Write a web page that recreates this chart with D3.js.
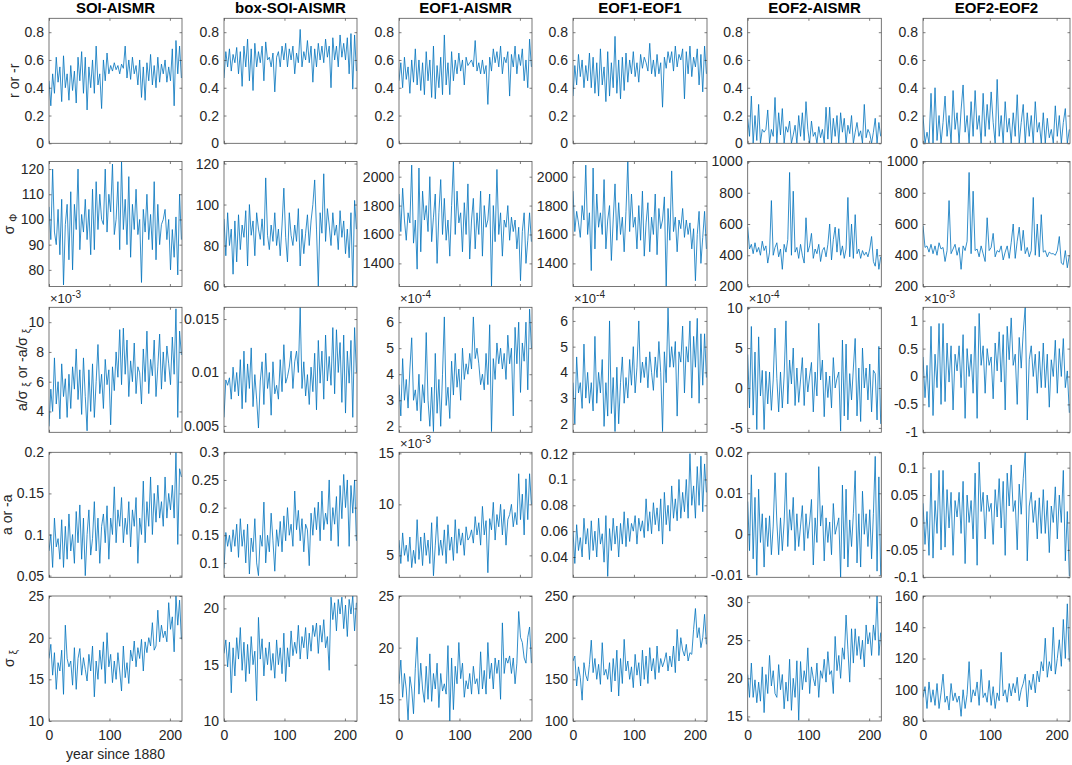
<!DOCTYPE html>
<html><head><meta charset="utf-8">
<script src="https://cdn.jsdelivr.net/npm/d3@7"></script>
<style>body{margin:0;background:#fff}svg{display:block;font-family:"Liberation Sans",Arial,Helvetica,sans-serif}</style>
</head><body><svg id="c" width="1072" height="765"></svg>
<script>
// ---------- categories / labels ----------
const columnTitles = ["SOI-AISMR","box-SOI-AISMR","EOF1-AISMR","EOF1-EOF1","EOF2-AISMR","EOF2-EOF2"];
const xTicks = [0,100,200];
const years = d3.range(0, 220, 3); // sampled years since 1880 (74 points)

// ---------- row 1 : r or -r ----------
const r_c1 = [0.45,0.27,0.5,0.36,0.62,0.44,0.55,0.3,0.63,0.4,
 0.5,0.31,0.56,0.38,0.52,0.29,0.62,0.45,0.66,0.36,
 0.62,0.24,0.55,0.4,0.6,0.36,0.7,0.42,0.5,0.25,
 0.6,0.45,0.65,0.5,0.56,0.52,0.58,0.53,0.56,0.5,
 0.57,0.54,0.7,0.47,0.6,0.46,0.62,0.5,0.56,0.42,
 0.6,0.33,0.55,0.31,0.58,0.45,0.64,0.42,0.56,0.4,
 0.62,0.44,0.57,0.5,0.6,0.44,0.55,0.45,0.68,0.27,
 0.74,0.5,0.7,0.47];
const r_c2 = [0.47,0.66,0.55,0.68,0.52,0.64,0.58,0.69,0.5,0.66,
 0.41,0.7,0.55,0.75,0.45,0.68,0.38,0.72,0.55,0.66,
 0.58,0.7,0.45,0.73,0.6,0.62,0.55,0.65,0.37,0.62,
 0.66,0.55,0.7,0.6,0.72,0.55,0.68,0.6,0.7,0.5,
 0.65,0.58,0.82,0.55,0.66,0.6,0.74,0.58,0.7,0.44,
 0.68,0.55,0.72,0.6,0.7,0.58,0.75,0.62,0.7,0.4,
 0.76,0.6,0.7,0.55,0.78,0.62,0.72,0.6,0.76,0.5,
 0.79,0.39,0.78,0.52];
const r_c3 = [0.45,0.58,0.4,0.62,0.46,0.55,0.36,0.6,0.44,0.68,
 0.42,0.6,0.38,0.58,0.35,0.66,0.45,0.6,0.33,0.7,
 0.32,0.56,0.4,0.62,0.35,0.78,0.42,0.58,0.35,0.66,
 0.45,0.6,0.5,0.65,0.52,0.6,0.42,0.62,0.56,0.58,
 0.6,0.55,0.74,0.52,0.58,0.5,0.6,0.5,0.56,0.28,
 0.62,0.52,0.68,0.58,0.66,0.55,0.7,0.5,0.62,0.58,
 0.66,0.34,0.64,0.55,0.7,0.5,0.64,0.56,0.68,0.45,
 0.6,0.4,0.75,0.55];
const r_c4 = [0.34,0.56,0.42,0.64,0.48,0.6,0.4,0.56,0.45,0.65,
 0.4,0.62,0.36,0.58,0.34,0.68,0.42,0.55,0.3,0.66,
 0.34,0.58,0.4,0.77,0.36,0.6,0.32,0.62,0.38,0.65,
 0.44,0.6,0.5,0.66,0.48,0.58,0.44,0.64,0.54,0.62,
 0.58,0.52,0.72,0.5,0.6,0.48,0.64,0.5,0.58,0.26,
 0.62,0.54,0.66,0.58,0.66,0.52,0.7,0.55,0.64,0.6,
 0.68,0.32,0.66,0.5,0.7,0.48,0.62,0.55,0.68,0.42,
 0.64,0.37,0.7,0.5];
const r_c5 = [0.18,0.05,0.34,0.0,0.2,0.02,0.28,0.0,0.1,0.08,
 0.1,0.24,0.0,0.1,0.05,0.33,0.0,0.22,0.06,0.25,
 0.0,0.12,0.08,0.16,0.0,0.06,0.13,0.0,0.2,0.05,
 0.22,0.02,0.3,0.1,0.0,0.16,0.05,0.08,0.0,0.12,
 0.04,0.1,0.0,0.26,0.03,0.26,0.0,0.18,0.05,0.2,
 0.0,0.22,0.08,0.18,0.0,0.13,0.07,0.2,0.0,0.08,
 0.15,0.05,0.09,0.0,0.28,0.04,0.1,0.07,0.0,0.08,
 0.18,0.0,0.15,0.05];
const r_c6 = [0.2,0.0,0.08,0.0,0.36,0.0,0.4,0.02,0.2,0.0,
 0.15,0.34,0.05,0.2,0.0,0.38,0.1,0.22,0.0,0.24,
 0.42,0.08,0.2,0.0,0.3,0.05,0.38,0.1,0.2,0.0,
 0.36,0.05,0.28,0.1,0.37,0.15,0.0,0.46,0.05,0.2,
 0.0,0.3,0.08,0.18,0.0,0.22,0.05,0.35,0.0,0.15,
 0.28,0.0,0.22,0.05,0.2,0.0,0.3,0.08,0.15,0.0,
 0.22,0.0,0.18,0.04,0.1,0.0,0.27,0.05,0.2,0.0,
 0.15,0.25,0.0,0.1];

// ---------- row 2 : sigma_Phi ----------
const sPhi_c1 = [105,92,120,95,90,104,86,108,74,98,
 106,84,111,80,106,96,120,88,102,95,
 108,92,104,86,112,88,115,96,110,100,
 98,120,95,110,103,122,94,100,115,88,
 123,96,108,90,117,85,106,96,112,94,
 100,75,104,95,110,92,102,88,115,84,
 106,90,98,100,104,92,100,80,96,85,
 101,78,110,92];
const sPhi_c2 = [93,75,96,80,88,66,92,72,95,78,
 90,84,97,70,100,85,92,75,96,88,
 83,93,80,113,85,78,90,82,96,80,
 88,75,90,108,84,72,96,85,80,90,
 82,98,70,88,76,86,95,80,92,100,
 112,88,60,96,86,115,82,98,90,80,
 96,85,90,78,97,84,92,76,88,74,
 96,60,102,88];
const sPhi_c3 = [1880,1620,1920,1700,1560,1750,1680,2080,1540,1700,
 1360,2060,1480,1900,1700,1800,1620,2000,1550,1720,
 1880,1400,1750,1980,1600,1850,1560,1700,1450,1800,
 2105,1600,1900,1680,1750,1480,1820,1600,1950,1430,
 1700,1850,1500,1750,1600,1900,1450,1800,1650,1700,
 1880,1240,1800,1550,2050,1600,1750,1450,1700,1650,
 1800,1560,1720,1620,1700,1500,1650,1280,1620,1750,
 1400,1560,1750,1550];
const sPhi_c4 = [1900,1620,1760,1680,1580,1800,1700,2080,1600,1750,
 1350,2060,1500,1880,1650,1750,1600,1980,1500,1700,
 1800,1420,1700,1950,1560,1820,1600,1720,1480,1760,
 2110,1620,1880,1650,1720,1500,1800,1560,1900,1450,
 1680,1820,1480,1720,1600,1880,1460,1780,1640,1700,
 1860,1240,1780,1560,2040,1620,1720,1480,1700,1640,
 1780,1580,1700,1600,1680,1500,1640,1280,1600,1760,
 1400,1580,1760,1500];
const sPhi_c5 = [580,440,470,410,480,420,450,400,490,430,
 460,350,420,750,400,450,480,390,440,310,
 470,420,500,930,400,810,420,450,380,470,
 400,350,640,420,460,540,380,440,410,470,
 360,430,450,390,470,600,370,500,580,420,
 570,400,460,380,440,770,390,600,380,660,
 410,440,380,430,400,420,390,440,520,360,
 330,440,310,390];
const sPhi_c6 = [590,450,460,420,470,410,460,400,480,440,
 450,360,430,750,410,440,470,400,450,310,
 460,430,490,930,410,810,430,440,390,460,
 410,360,640,430,450,540,390,430,420,460,
 370,420,460,380,480,600,380,490,580,430,
 560,410,450,390,430,770,400,600,390,660,
 420,430,390,420,410,410,400,430,520,350,
 340,430,320,400];

// ---------- row 3 : a/sigma_xi (in axis display units) ----------
const aSig_c1 = [3.0,5.5,4.0,7.6,4.5,6.0,3.5,7.2,5.0,6.2,
 3.6,6.5,4.2,7.0,5.5,8.2,4.8,6.8,3.8,7.6,
 5.0,2.7,6.8,4.0,7.2,3.6,6.0,8.5,5.2,6.5,
 4.2,7.5,5.8,6.8,3.1,7.0,5.4,8.0,6.3,9.5,
 5.8,9.6,6.5,8.8,5.0,7.4,6.0,8.6,5.2,7.0,
 6.6,4.5,8.2,6.0,9.4,5.2,7.5,6.4,8.8,5.0,
 7.0,9.2,5.5,8.0,6.0,8.4,7.2,5.8,9.0,6.5,
 10.9,3.6,9.4,7.8];
const aSig_c2 = [0.0058,0.0093,0.0088,0.0095,0.0075,0.0105,0.0082,0.0100,0.0078,0.0112,
 0.0066,0.0120,0.0072,0.0108,0.0085,0.0123,0.0068,0.0098,0.0075,0.0048,
 0.0092,0.0110,0.0070,0.0118,0.0085,0.0100,0.0060,0.0110,0.0080,0.0088,
 0.0075,0.0112,0.0082,0.0126,0.0090,0.0096,0.0105,0.0120,0.0085,0.0110,
 0.0120,0.0100,0.0161,0.0085,0.0110,0.0078,0.0098,0.0070,0.0105,0.0082,
 0.0118,0.0065,0.0130,0.0090,0.0120,0.0075,0.0135,0.0092,0.0115,0.0088,
 0.0142,0.0080,0.0140,0.0100,0.0128,0.0072,0.0135,0.0062,0.0120,0.0090,
 0.0130,0.0058,0.0142,0.0100];
const aSig_c3 = [3.6,2.4,4.6,3.0,3.8,2.7,4.2,5.4,3.0,3.4,
 2.6,4.0,2.2,3.6,2.9,5.6,3.0,2.0,3.5,1.8,
 4.8,2.5,3.8,2.0,4.0,6.2,2.8,3.5,2.3,4.5,
 3.2,4.8,3.5,4.2,3.0,5.0,3.8,4.4,4.0,4.8,
 4.2,6.2,4.6,5.0,4.4,3.6,4.0,3.4,4.8,3.6,
 5.9,1.8,4.6,3.8,5.2,4.4,5.0,4.2,4.8,3.8,
 5.5,4.4,5.0,2.4,5.8,4.4,6.0,3.3,5.2,4.5,
 6.0,3.4,6.5,5.0];
const aSig_c4 = [3.6,2.0,4.6,3.2,3.6,2.6,5.1,3.0,4.0,2.8,
 3.6,2.5,5.4,2.8,4.0,3.2,4.5,1.9,3.6,2.3,
 6.0,2.4,3.8,1.7,4.2,2.0,3.6,4.6,2.8,3.8,
 3.0,4.5,3.5,5.0,3.2,4.2,6.0,3.6,4.4,3.8,
 4.6,3.4,4.8,4.0,3.3,4.6,3.8,5.2,4.0,1.7,
 4.8,3.6,6.5,4.2,5.0,4.2,5.2,2.3,4.8,4.4,
 5.8,3.2,5.0,4.4,6.0,3.0,5.4,4.2,6.1,2.8,
 5.5,3.5,5.5,3.8];
const aSig_c5 = [4.2,-2.5,7.7,-3.4,4.5,-5.2,6.4,-1.0,2.2,-5.2,
 2.1,-2.0,2.0,-2.8,1.0,7.5,1.2,-3.0,2.0,-2.5,
 1.5,8.4,-2.0,3.5,0.5,5.0,-2.2,2.5,-1.8,1.0,
 3.8,-2.2,2.5,-0.5,1.5,3.2,-3.0,2.0,-1.0,8.1,
 1.0,3.5,-3.6,2.0,-1.2,1.5,-2.5,3.8,0.0,1.2,
 2.0,-5.4,6.0,-3.5,5.5,-4.0,1.8,-1.5,2.5,6.2,
 -3.5,2.5,-4.2,5.0,0.0,2.5,-1.5,3.0,-3.0,2.2,
 1.8,-4.0,5.2,-4.5];
const aSig_c6 = [0.35,-0.38,0.2,-0.55,0.9,-0.7,0.4,-0.2,0.95,-0.5,
 0.95,-0.45,0.6,-0.1,0.55,-0.6,0.4,0.1,0.55,-0.2,
 0.75,-0.75,0.5,0.0,0.4,-0.3,0.9,-0.75,1.13,0.2,
 0.55,-0.3,0.5,0.2,0.35,-0.4,0.6,0.1,0.8,-0.1,
 0.75,-0.6,0.9,0.3,1.05,0.2,0.4,-0.5,0.7,0.15,
 0.8,1.24,-0.78,0.3,0.55,0.0,0.4,-0.3,0.45,-0.2,
 0.6,-0.2,0.4,-0.55,0.3,0.0,0.65,-0.3,0.5,0.0,
 0.68,-0.2,0.1,-0.65];

// ---------- row 4 : a or -a ----------
const a_c1 = [0.08,0.1,0.06,0.12,0.085,0.095,0.07,0.118,0.06,0.11,
 0.07,0.125,0.08,0.1,0.065,0.128,0.09,0.136,0.07,0.12,
 0.05,0.1,0.13,0.075,0.095,0.14,0.08,0.12,0.065,0.11,
 0.125,0.09,0.135,0.07,0.12,0.1,0.158,0.09,0.13,0.11,
 0.145,0.09,0.12,0.1,0.14,0.085,0.13,0.11,0.145,0.065,
 0.12,0.1,0.165,0.09,0.14,0.11,0.17,0.1,0.15,0.115,
 0.16,0.12,0.14,0.11,0.17,0.12,0.15,0.13,0.16,0.12,
 0.2,0.088,0.18,0.17];
const a_c2 = [0.09,0.155,0.13,0.15,0.12,0.16,0.13,0.17,0.11,0.18,
 0.13,0.16,0.1,0.17,0.08,0.145,0.12,0.18,0.1,0.077,
 0.15,0.13,0.21,0.1,0.15,0.12,0.19,0.14,0.085,0.16,
 0.13,0.175,0.12,0.185,0.14,0.2,0.15,0.17,0.13,0.23,
 0.16,0.195,0.14,0.18,0.12,0.17,0.16,0.095,0.19,0.15,
 0.2,0.16,0.21,0.14,0.23,0.16,0.19,0.17,0.25,0.14,
 0.2,0.17,0.22,0.13,0.24,0.18,0.26,0.2,0.25,0.13,
 0.24,0.19,0.25,0.14];
const a_c3 = [6.5,4.2,7.2,5.0,6.0,4.4,6.8,3.8,5.5,4.2,
 8.5,4.6,6.8,4.0,7.2,5.0,6.5,4.2,8.2,3.0,
 6.0,8.8,5.0,6.5,5.0,7.5,4.2,8.0,5.5,6.8,
 4.5,8.5,5.2,7.6,6.0,7.2,5.0,7.8,6.5,6.8,
 7.5,6.2,8.8,7.0,8.2,6.0,9.8,7.0,8.4,3.3,
 8.6,7.5,10.2,6.5,9.0,7.8,10.0,7.0,9.5,6.0,
 8.5,9.0,10.0,7.8,9.2,8.0,13.0,8.5,11.0,7.0,
 12.5,8.5,13.0,10.0];
const a_c4 = [0.06,0.035,0.065,0.045,0.055,0.04,0.07,0.05,0.062,0.038,
 0.068,0.045,0.06,0.04,0.07,0.05,0.058,0.036,0.072,0.025,
 0.062,0.045,0.07,0.05,0.064,0.04,0.066,0.05,0.075,0.048,
 0.07,0.052,0.066,0.06,0.072,0.05,0.07,0.06,0.068,0.055,
 0.085,0.06,0.075,0.058,0.082,0.065,0.078,0.06,0.085,0.05,
 0.09,0.065,0.08,0.06,0.095,0.07,0.085,0.068,0.1,0.07,
 0.09,0.075,0.1,0.07,0.12,0.08,0.095,0.07,0.11,0.08,
 0.118,0.075,0.112,0.09];
const a_c5 = [0.008,-0.004,0.0145,-0.006,0.009,-0.01,0.011,-0.002,0.005,-0.008,
 0.004,-0.003,0.0045,-0.005,0.002,0.015,0.003,-0.005,0.004,-0.004,
 0.003,0.015,-0.003,0.006,0.001,0.009,-0.004,0.005,-0.003,0.002,
 0.007,-0.004,0.005,-0.001,0.003,0.0085,-0.0075,0.004,-0.002,0.0165,
 0.002,0.007,-0.0065,0.004,-0.002,0.003,-0.005,0.0075,0.0,0.002,
 0.004,-0.0105,0.012,-0.006,0.011,-0.008,0.0035,-0.003,0.005,0.0155,
 -0.007,0.005,-0.008,0.0105,0.0,0.005,-0.003,0.006,-0.006,0.005,
 0.019,-0.009,0.014,-0.01];
const a_c6 = [0.035,-0.04,0.02,-0.06,0.09,-0.065,0.04,-0.02,0.095,-0.05,
 0.095,-0.045,0.06,-0.01,0.055,-0.06,0.04,0.01,0.055,-0.02,
 0.075,-0.075,0.05,0.0,0.04,-0.03,0.09,-0.078,0.11,0.02,
 0.055,-0.03,0.05,0.02,0.035,-0.04,0.06,0.01,0.08,-0.01,
 0.075,-0.06,0.09,0.03,0.105,0.02,0.04,-0.05,0.07,0.015,
 0.08,0.128,-0.07,0.03,0.055,0.0,0.04,-0.03,0.045,-0.02,
 0.06,-0.02,0.04,-0.055,0.03,0.0,0.065,-0.03,0.05,0.0,
 0.095,-0.07,0.02,-0.098];

// ---------- row 5 : sigma_xi ----------
const sXi_c1 = [17.5,19.2,15.5,18.2,13.8,17.0,16.0,18.5,13.2,21.5,
 17.5,16.5,17.2,14.3,18.8,13.8,17.5,18.7,15.5,17.6,
 16.2,14.8,18.0,16.0,19.0,12.9,17.2,15.0,18.5,16.2,
 19.5,14.5,20.6,16.5,18.0,14.6,17.2,15.0,18.2,16.0,
 13.6,19.0,15.2,17.0,14.5,18.5,17.2,19.6,16.5,18.8,
 17.5,19.8,16.0,19.5,18.2,20.0,19.0,21.8,18.5,19.0,
 23.3,19.5,21.5,20.0,20.8,19.5,24.2,21.0,22.5,18.3,
 25.0,21.5,24.5,19.8];
const sXi_c2 = [16.0,17.2,14.8,17.0,12.5,16.5,14.0,17.4,15.5,18.3,
 14.5,17.0,13.5,16.8,14.2,17.5,15.0,16.2,11.8,19.2,
 15.5,17.3,14.0,16.5,15.0,17.0,14.5,16.0,13.8,17.2,
 15.0,16.5,14.2,17.8,13.5,16.5,14.8,18.0,15.8,17.0,
 16.0,18.5,15.5,17.5,16.5,18.3,15.5,17.8,16.2,18.5,
 17.5,18.7,16.0,18.5,17.0,19.0,16.5,17.5,14.5,21.0,
 19.0,20.5,18.0,20.8,19.5,21.0,18.2,20.3,17.5,20.8,
 19.5,21.1,18.0,20.5];
const sXi_c3 = [16.5,18.8,15.2,17.5,16.0,13.0,17.2,16.0,13.6,18.0,
 21.0,15.5,18.5,16.0,14.7,18.2,15.0,19.4,14.8,17.5,
 16.0,18.5,14.2,17.5,15.8,16.5,15.5,20.2,12.9,19.0,
 14.0,18.2,16.5,20.5,17.0,18.5,15.2,16.8,16.0,17.5,
 15.5,18.2,16.5,17.0,15.5,19.6,16.0,17.8,15.5,20.5,
 17.0,18.5,16.0,19.0,17.5,18.8,15.0,22.4,17.5,19.0,
 18.5,19.2,17.5,19.0,16.5,18.5,23.5,21.0,20.5,19.0,
 18.5,21.0,22.0,18.5];
const sXi_c4 = [172,178,142,165,152,125,170,155,148,168,
 197,158,175,150,168,144,194,155,162,150,
 170,135,175,148,185,130,175,145,198,160,
 172,150,165,140,180,155,170,142,185,150,
 178,145,188,160,175,150,190,158,175,165,
 172,182,160,178,165,190,158,210,172,200,
 185,178,192,172,182,180,210,235,200,212,
 188,200,228,192];
const sXi_c5 = [20.5,17.5,22.0,17.5,19.8,16.8,19.5,17.0,21.5,15.5,
 20.5,18.0,23.0,19.0,21.0,18.0,17.5,21.8,18.5,20.5,
 16.0,19.5,17.0,22.5,15.8,20.0,17.5,22.3,14.5,22.2,
 18.5,21.0,19.5,24.0,18.0,21.5,20.0,19.0,22.0,17.5,
 21.0,20.0,22.5,19.5,23.5,20.5,21.0,18.0,25.5,21.0,
 23.0,20.0,24.0,22.5,28.3,23.8,19.5,26.5,22.0,26.5,
 23.0,25.5,22.5,25.0,21.5,27.0,24.5,26.0,23.0,27.0,
 25.0,30.8,23.0,26.0];
const sXi_c6 = [95,102,88,105,92,100,90,104,88,98,
 110,92,96,87,104,93,98,92,96,83,
 100,88,97,118,92,100,96,105,90,113,
 95,98,92,106,90,102,88,98,93,124,
 96,100,92,104,96,104,98,108,93,100,
 104,110,89,106,100,110,98,112,105,118,
 112,133,108,118,112,140,110,120,132,115,
 145,120,155,118];

// ---------- y ticks ----------
const yTicks = [
 [[0,0.2,0.4,0.6,0.8],[0,0.2,0.4,0.6,0.8],[0,0.2,0.4,0.6,0.8],[0,0.2,0.4,0.6,0.8],[0,0.2,0.4,0.6,0.8],[0,0.2,0.4,0.6,0.8]],
 [[80,90,100,110,120],[60,80,100,120],[1400,1600,1800,2000],[1400,1600,1800,2000],[200,400,600,800,1000],[200,400,600,800,1000]],
 [[4,6,8,10],[0.005,0.01,0.015],[2,3,4,5,6],[2,3,4,5,6],[-5,0,5,10],[-1,-0.5,0,0.5,1]],
 [[0.05,0.1,0.15,0.2],[0.1,0.15,0.2,0.25,0.3],[5,10,15],[0.04,0.06,0.08,0.1,0.12],[-0.01,0,0.01,0.02],[-0.1,-0.05,0,0.05,0.1]],
 [[10,15,20,25],[10,15,20],[15,20,25],[100,150,200,250],[15,20,25,30],[80,100,120,140,160]]
];
const yDomains = [
 [[0,0.9],[0,0.9],[0,0.9],[0,0.9],[0,0.9],[0,0.9]],
 [[73.4,123],[60,121],[1240,2105],[1240,2105],[200,1000],[200,1000]],
 [[2.6,11],[0.0044,0.0161],[1.77,6.57],[1.67,6.53],[-5.55,10.1],[-1,1.24]],
 [[0.048,0.2],[0.074,0.3],[2.85,15.1],[0.0243,0.121],[-0.0105,0.02],[-0.1,0.128]],
 [[10,25],[10,21.1],[12.9,25],[100,250],[14.4,30.8],[80,160]]
];
const exponents = [
 [null,null,null,null,null,null],
 [null,null,null,null,null,null],
 ["-3",null,"-4","-4","-4","-3"],
 [null,null,"-3",null,null,null],
 [null,null,null,null,null,null]
];
const series = [
 [r_c1,r_c2,r_c3,r_c4,r_c5,r_c6],
 [sPhi_c1,sPhi_c2,sPhi_c3,sPhi_c4,sPhi_c5,sPhi_c6],
 [aSig_c1,aSig_c2,aSig_c3,aSig_c4,aSig_c5,aSig_c6],
 [a_c1,a_c2,a_c3,a_c4,a_c5,a_c6],
 [sXi_c1,sXi_c2,sXi_c3,sXi_c4,sXi_c5,sXi_c6]
];

// ---------- layout ----------
const colX = [49,224,399,573,747.7,923];
const colW = [133,133,133,134,133.6,147];
const rowY = [18.3,161.5,307.3,452.3,596];
const rowH = 125;
const ink = "#262626";
const lineColor = "#0072BD";

const svg = d3.select("#c");
const defs = svg.append("defs");

for (let r = 0; r < 5; r++) {
  for (let c = 0; c < 6; c++) {
    const w = colW[c], h = rowH;
    const g = svg.append("g").attr("transform", `translate(${colX[c]},${rowY[r]})`);
    const x = d3.scaleLinear().domain([0,220]).range([0,w]);
    const y = d3.scaleLinear().domain(yDomains[r][c]).range([h,0]);
    const id = `clip${r}_${c}`;
    defs.append("clipPath").attr("id", id).append("rect").attr("width", w).attr("height", h);

    const vals = series[r][c];
    const line = d3.line().x((d,i) => x(years[i])).y(d => y(d));
    g.append("path").datum(vals).attr("d", line)
      .attr("fill","none").attr("stroke",lineColor).attr("stroke-width",0.8)
      .attr("stroke-linejoin","round").attr("clip-path",`url(#${id})`);

    // axes (MATLAB style: ticks inside, box)
    const left = g.append("g").call(d3.axisLeft(y).tickValues(yTicks[r][c]).tickSize(-2.5).tickPadding(5).tickFormat(d => String(d)));
    const right = g.append("g").attr("transform",`translate(${w},0)`).call(d3.axisRight(y).tickValues(yTicks[r][c]).tickSize(-2.5).tickFormat(""));
    const top = g.append("g").call(d3.axisTop(x).tickValues(xTicks).tickSize(-2.5).tickFormat(""));
    const bottom = g.append("g").attr("transform",`translate(0,${h})`)
      .call(d3.axisBottom(x).tickValues(xTicks).tickSize(-2.5).tickPadding(9).tickFormat(r === 4 ? (d => String(d)) : ""));
    [left,right,top,bottom].forEach(a => {
      a.select(".domain").remove();
      a.selectAll(".tick line").attr("stroke", ink).attr("stroke-width",0.6);
      a.selectAll("text").attr("fill", ink).style("font-size","14px").style("font-family",'"Liberation Sans",Arial,sans-serif');
    });
    g.append("rect").attr("width",w).attr("height",h).attr("fill","none").attr("stroke","#555").attr("stroke-width",0.8);

    const ex = exponents[r][c];
    if (ex) {
      const t = g.append("text").attr("x",1).attr("y",-4).attr("fill",ink).style("font-size","13px");
      t.append("tspan").text("×10");
      t.append("tspan").attr("dy",-5).style("font-size","10px").text(ex);
    }
    if (r === 0) {
      svg.append("text").attr("x", colX[c] + w/2).attr("y", 13).attr("text-anchor","middle")
        .attr("fill","#000").style("font-size","15px").style("font-weight","bold").text(columnTitles[c]);
    }
  }
}

// ---------- y labels ----------
function ylab(xb, r, parts) {
  const yc = rowY[r] + rowH/2;
  const t = svg.append("text").attr("transform",`translate(${xb},${yc}) rotate(-90)`)
    .attr("text-anchor","middle").attr("fill",ink).style("font-size","14px");
  parts.forEach(p => {
    if (p.sub) { t.append("tspan").attr("dy",3).style("font-size","10px").text(p.t); }
    else { t.append("tspan").attr("dy",p.after ? -3 : 0).text(p.t); }
  });
}
ylab(18.5, 0, [{t:"r or -r"}]);
ylab(14, 1, [{t:"σ "},{t:"Φ",sub:true}]);
ylab(27, 2, [{t:"a/σ "},{t:"ξ",sub:true},{t:" or -a/σ ",after:true},{t:"ξ",sub:true}]);
ylab(12, 3, [{t:"a or -a"}]);
ylab(14, 4, [{t:"σ "},{t:"ξ",sub:true}]);

svg.append("text").attr("x", colX[0] + colW[0]/2).attr("y", 759).attr("text-anchor","middle")
  .attr("fill",ink).style("font-size","14px").text("year since 1880");
</script></body></html>
